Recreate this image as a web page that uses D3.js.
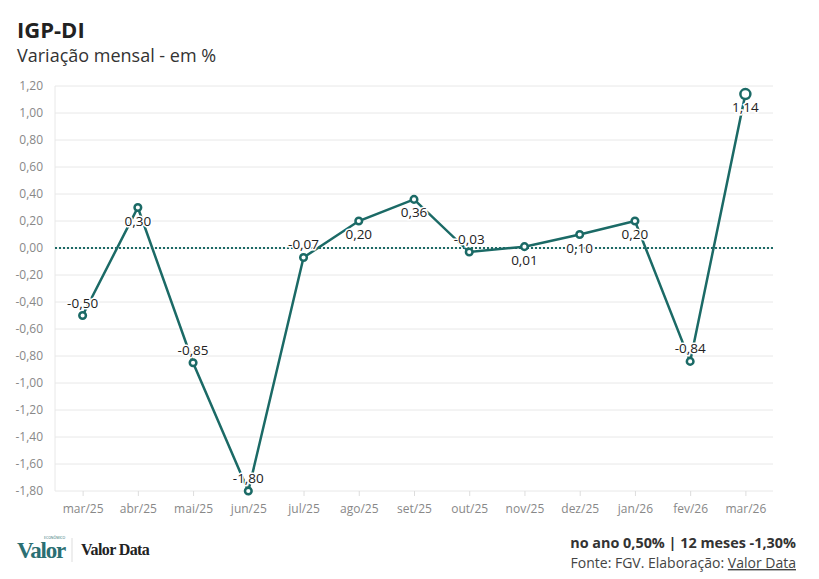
<!DOCTYPE html>
<html>
<head>
<meta charset="utf-8">
<script src="https://cdn.jsdelivr.net/npm/d3@7"></script>
<style>
  body { margin: 0; background: #fff; font-family: "Open Sans", sans-serif; }
</style>
</head>
<body>
<div id="chart"></div>
<script>
// dados
var meses = ["mar/25","abr/25","mai/25","jun/25","jul/25","ago/25","set/25","out/25","nov/25","dez/25","jan/26","fev/26","mar/26"];
var valores = [-0.50, 0.30, -0.85, -1.80, -0.07, 0.20, 0.36, -0.03, 0.01, 0.10, 0.20, -0.84, 1.14];
var posRotulo = ["up","down","up","up","up","down","down","up","down","down","down","up","down"];
var yTicks = [1.2, 1.0, 0.8, 0.6, 0.4, 0.2, 0, -0.2, -0.4, -0.6, -0.8, -1.0, -1.2, -1.4, -1.6, -1.8];

var width = 819, height = 579;
var cor = "#1b6a66";
var fmt = function(v){ return d3.format(".2f")(v).replace("−","-").replace(".", ","); };

var svg = d3.select("#chart").append("svg").attr("width", width).attr("height", height);

svg.append("text").attr("x", 17).attr("y", 38).text("IGP-DI")
  .attr("font-size", 22).attr("font-weight", 700).attr("fill", "#222");
svg.append("text").attr("x", 17).attr("y", 62).text("Variação mensal - em %")
  .attr("font-size", 18).attr("fill", "#333");

var x = d3.scalePoint().domain(meses).range([55, 773]).padding(0.5);
var y = d3.scaleLinear().domain([-1.8, 1.2]).range([491, 86]);

// grade
svg.append("g").selectAll("line").data(yTicks).enter().append("line")
  .attr("x1", 55).attr("x2", 773)
  .attr("y1", function(d){ return y(d); }).attr("y2", function(d){ return y(d); })
  .attr("stroke", "#e8e8e8").attr("stroke-width", 1);

svg.append("line").attr("x1", 55).attr("x2", 55).attr("y1", 86).attr("y2", 491)
  .attr("stroke", "#e8e8e8");

var yAxis = svg.append("g").attr("transform", "translate(50,0)")
  .call(d3.axisLeft(y).tickValues(yTicks).tickSize(0).tickFormat(fmt));
yAxis.select(".domain").remove();
yAxis.selectAll("text").attr("font-family", "Open Sans").attr("font-size", 12).attr("fill", "#888").attr("dx", -4);

var xAxis = svg.append("g").attr("transform", "translate(0,491)")
  .call(d3.axisBottom(x).tickSize(5));
xAxis.select(".domain").remove();
xAxis.selectAll("line").attr("stroke", "#ddd");
xAxis.selectAll("text").attr("font-family", "Open Sans").attr("font-size", 12).attr("fill", "#888").attr("dy", "1.2em");

// linha do zero
svg.append("line").attr("x1", 55).attr("x2", 773).attr("y1", y(0)).attr("y2", y(0))
  .attr("stroke", cor).attr("stroke-width", 2).attr("stroke-dasharray", "2,2");

var line = d3.line().x(function(d, i){ return x(meses[i]); }).y(function(d){ return y(d); });
svg.append("path").datum(valores).attr("d", line)
  .attr("fill", "none").attr("stroke", cor).attr("stroke-width", 2.5);

// rotulos
svg.append("g").selectAll("text").data(valores).enter().append("text")
  .attr("x", function(d, i){ return x(meses[i]); })
  .attr("y", function(d, i){ return y(d) + (posRotulo[i] == "up" ? -8 : 18); })
  .attr("text-anchor", "middle").attr("font-size", 13.5).attr("fill", "#222")
  .attr("stroke", "#fff").attr("stroke-width", 3).attr("paint-order", "stroke")
  .text(fmt);

svg.append("g").selectAll("circle").data(valores).enter().append("circle")
  .attr("cx", function(d, i){ return x(meses[i]); })
  .attr("cy", function(d){ return y(d); })
  .attr("r", function(d, i){ return i == valores.length - 1 ? 5 : 3.3; })
  .attr("fill", "#fff").attr("stroke", cor).attr("stroke-width", 2.5);

// rodape
svg.append("text").attr("x", 17).attr("y", 558).text("Valor")
  .attr("font-family", "Liberation Serif").attr("font-size", 23).attr("font-weight", 700)
  .attr("fill", "#2b6f73").attr("letter-spacing", -1.2);
svg.append("text").attr("x", 44).attr("y", 539).text("ECONÔMICO")
  .attr("font-size", 3.5).attr("fill", "#2b6f73");
svg.append("line").attr("x1", 72).attr("x2", 72).attr("y1", 538).attr("y2", 562).attr("stroke", "#ddd");
svg.append("text").attr("x", 81).attr("y", 555).text("Valor Data")
  .attr("font-family", "Liberation Serif").attr("font-size", 16).attr("font-weight", 700).attr("fill", "#222")
  .attr("letter-spacing", -0.6);

svg.append("text").attr("x", 796).attr("y", 548).attr("text-anchor", "end")
  .text("no ano 0,50% | 12 meses -1,30%")
  .attr("font-size", 14.4).attr("font-weight", 700).attr("fill", "#333");
var fonte = svg.append("text").attr("x", 796).attr("y", 568).attr("text-anchor", "end")
  .attr("font-size", 14).attr("fill", "#444");
fonte.append("tspan").text("Fonte: FGV. Elaboração: ");
fonte.append("tspan").text("Valor Data").attr("text-decoration", "underline");
</script>
</body>
</html>
